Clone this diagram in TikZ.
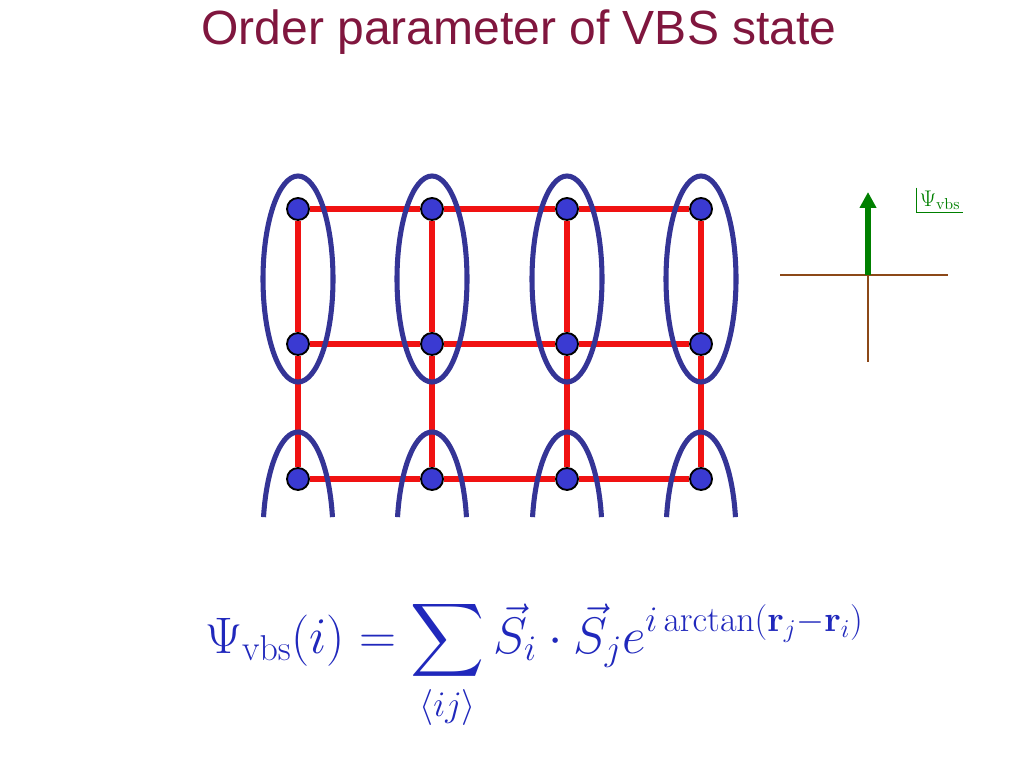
\RequirePackage{fix-cm}
\documentclass[tikz,border=0pt]{standalone}
\usepackage{amsmath,amssymb}
\usepackage[no-math]{fontspec}
\newfontfamily\titlefont{Liberation Sans}
\usetikzlibrary{calc,arrows.meta}
\definecolor{VbsTitle}{RGB}{128,22,62}
\definecolor{BondRed}{RGB}{240,18,18}
\definecolor{DimerBlue}{RGB}{52,52,150}
\definecolor{SiteBlue}{RGB}{58,58,210}
\definecolor{AxisBrown}{RGB}{140,72,24}
\definecolor{OrderGreen}{RGB}{0,128,0}
\definecolor{FormBlue}{RGB}{32,40,188}
\tikzset{
	site/.style={circle,draw=black,fill=SiteBlue,line width=1.4pt,minimum size=16.5pt,inner sep=0pt},
	bond/.style={draw=BondRed,line width=4.5pt},
	dimer/.style={draw=DimerBlue,line width=3.8pt},
	axis/.style={draw=AxisBrown,line width=1.3pt},
}

\begin{document}
\begin{tikzpicture}[x=0.75pt,y=0.75pt]
	\useasboundingbox (0,0) rectangle (1024,768);
	\node[VbsTitle,font=\titlefont\fontsize{36}{40}\selectfont] (title) at (519,736) {Order parameter of VBS state};
	% lattice sites
	\foreach \c/\x in {1/298,2/432,3/567,4/701}
	\foreach \r/\y in {1/559,2/424,3/289}
	\node[site] (s\c\r) at (\x,\y) {};
	% bonds
	\foreach \c/\n in {1/2,2/3,3/4}
	\foreach \r in {1,2,3}
	\draw[bond] (s\c\r)--(s\n\r);
	\foreach \c in {1,2,3,4}
	\foreach \r/\n in {1/2,2/3}
	\draw[bond] (s\c\r)--(s\c\n);
	% dimers
	\foreach \x in {298,432,567,701}{
		\draw[dimer] (\x,489) ellipse[x radius=35,y radius=103];
		\draw[dimer] ($(\x,233)+(10:35 and 103)$) arc[start angle=10,end angle=170,x radius=35,y radius=103];
	}
	% order parameter plane
	\coordinate (o) at (868,493);
	\coordinate (w) at (780,493);
	\coordinate (e) at (948,493);
	\coordinate (s) at (868,406);
	\coordinate (n) at (868,576);
	\draw[axis] (w)--(e);
	\draw[axis] (o)--(s);
	\draw[OrderGreen,line width=5pt,-{Triangle[length=12pt,width=12pt]}] (o)--(n);
	\node[OrderGreen,font=\fontsize{17}{19}\selectfont,inner sep=2pt] (psi) at (940,568) {$\Psi_{\mathrm{vbs}}$};
	\draw[OrderGreen,line width=0.8pt] (psi.north west)|-(psi.south east);
	% formula
	\node[FormBlue,anchor=base west,inner sep=0pt,font=\fontsize{38.5}{42}\selectfont] (formula) at (205,115)
	{$\displaystyle \Psi_{\mathrm{vbs}}(i)=\sum_{\langle ij\rangle}\vec{S}_i\cdot\vec{S}_j e^{i\arctan(\mathbf{r}_j-\mathbf{r}_i)}$};
\end{tikzpicture}
\end{document}
